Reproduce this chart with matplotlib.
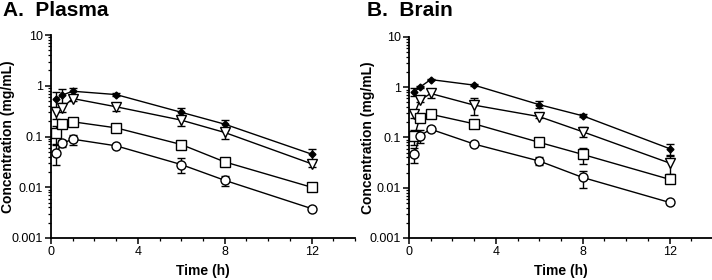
import matplotlib
matplotlib.use("Agg")
import matplotlib.pyplot as plt
from matplotlib.ticker import FixedLocator, LogLocator, NullFormatter, MultipleLocator
import numpy as np

plt.rcParams['font.family'] = ['Liberation Sans', 'DejaVu Sans']

time_h = [0.25, 0.5, 1, 3, 6, 8, 12]

# Plasma (mg/mL) mean and SD
plasma_diamond = [0.55, 0.65, 0.78, 0.67, 0.30, 0.175, 0.045]
plasma_diamond_sd = [0.2, 0.2, 0.12, 0.05, 0.07, 0.04, 0.013]
plasma_triangle = [0.30, 0.36, 0.56, 0.385, 0.21, 0.12, 0.029]
plasma_triangle_sd = [0.08, 0.05, 0.05, 0.06, 0.05, 0.03, 0.004]
plasma_square = [0.115, 0.175, 0.195, 0.148, 0.0695, 0.0316, 0.010]
plasma_square_sd = [0.045, 0.02, 0.02, 0.01, 0.005, 0.003, 0.001]
plasma_circle = [0.048, 0.073, 0.0886, 0.0655, 0.028, 0.0137, 0.0038]
plasma_circle_sd = [0.02, 0.012, 0.02, 0.003, 0.009, 0.003, 0.0003]

# Brain (mg/mL) mean and SD
brain_diamond = [0.81, 1.0, 1.42, 1.1, 0.45, 0.27, 0.060]
brain_diamond_sd = [0.15, 0.05, 0.05, 0.05, 0.07, 0.02, 0.015]
brain_triangle = [0.29, 0.55, 0.75, 0.44, 0.26, 0.13, 0.031]
brain_triangle_sd = [0.05, 0.05, 0.13, 0.16, 0.02, 0.03, 0.012]
brain_square = [0.106, 0.246, 0.29, 0.187, 0.080, 0.046, 0.0147]
brain_square_sd = [0.035, 0.02, 0.02, 0.01, 0.005, 0.017, 0.002]
brain_circle = [0.046, 0.108, 0.146, 0.074, 0.034, 0.016, 0.0051]
brain_circle_sd = [0.015, 0.03, 0.005, 0.003, 0.006, 0.006, 0.0003]

y_ticks = [0.001, 0.01, 0.1, 1, 10]
y_tick_labels = ["0.001", "0.01", "0.1", "1", "10"]
x_ticks = [0, 4, 8, 12]

panel_titles = ["A.  Plasma", "B.  Brain"]

fig = plt.figure(figsize=(7.12, 2.8), dpi=100)
ax1 = fig.add_axes([0.0716, 0.15, 0.427, 0.725])
ax2 = fig.add_axes([0.5744, 0.15, 0.427, 0.718])

styles = [
    dict(marker='D', ms=3.5, mfc='black', mec='black'),
    dict(marker='v', ms=7, mfc='white', mec='black'),
    dict(marker='s', ms=6.5, mfc='white', mec='black'),
    dict(marker='o', ms=6.5, mfc='white', mec='black'),
]

panels = [
    (ax1, -0.141, [(plasma_diamond, plasma_diamond_sd), (plasma_triangle, plasma_triangle_sd),
           (plasma_square, plasma_square_sd), (plasma_circle, plasma_circle_sd)]),
    (ax2, -0.135, [(brain_diamond, brain_diamond_sd), (brain_triangle, brain_triangle_sd),
           (brain_square, brain_square_sd), (brain_circle, brain_circle_sd)]),
]

for ax, ylab_x, series in panels:
    for (vals, sd), st in zip(series, styles):
        v = np.array(vals)
        s = np.array(sd)
        lower = np.minimum(s, v * 0.6)
        ax.errorbar(time_h, v, yerr=[lower, s], color='black', lw=1.0,
                    elinewidth=1.0, capsize=3, capthick=1.0, mew=1.0, **st)
    ax.set_yscale('log')
    ax.set_ylim(0.001, 10)
    ax.set_xlim(0, 14)
    ax.yaxis.set_major_locator(FixedLocator(y_ticks))
    ax.set_yticklabels(y_tick_labels)
    ax.yaxis.set_minor_locator(LogLocator(base=10, subs=np.arange(2, 10), numticks=20))
    ax.yaxis.set_minor_formatter(NullFormatter())
    ax.xaxis.set_major_locator(FixedLocator(x_ticks))
    ax.xaxis.set_minor_locator(MultipleLocator(1))
    for side in ['top', 'right']:
        ax.spines[side].set_visible(False)
    for side in ['left', 'bottom']:
        ax.spines[side].set_linewidth(1.3)
    ax.tick_params(which='major', length=4, width=1.1, labelsize=9, pad=2)
    ax.tick_params(which='minor', length=2.5, width=0.9)
    ax.set_xlabel("Time (h)", fontsize=10, fontweight='bold')
    ax.set_ylabel("Concentration (mg/mL)", fontsize=10, fontweight='bold')
    ax.xaxis.set_label_coords(0.5, -0.13)
    ax.yaxis.set_label_coords(ylab_x, 0.5)
    ax.yaxis.label.set_va('center')
    ax.patch.set_alpha(0)

fig.text(0.004, 0.995, panel_titles[0], fontsize=15, fontweight='bold', va='top', ha='left')
fig.text(0.5155, 0.995, panel_titles[1], fontsize=15, fontweight='bold', va='top', ha='left')

fig.savefig("out.png", dpi=100)
